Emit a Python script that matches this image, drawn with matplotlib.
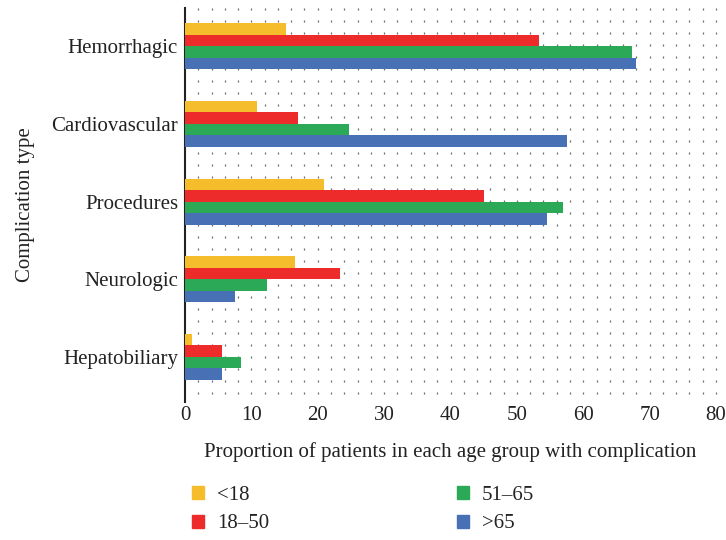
import numpy as np
import matplotlib.pyplot as plt
from matplotlib.patches import Patch

plt.rcParams['font.family'] = ['Liberation Serif', 'DejaVu Serif']

categories = ['Hepatobiliary', 'Neurologic', 'Procedures', 'Cardiovascular', 'Hemorrhagic']
groups = ['<18', '18\u201350', '51\u201365', '>65']
under18 = [1.0, 16.5, 21.0, 10.9, 15.2]
age18_50 = [5.6, 23.3, 45.1, 17.0, 53.3]
age51_65 = [8.5, 12.3, 57.0, 24.7, 67.3]
over65 = [5.6, 7.5, 54.5, 57.5, 67.9]
colors = ['#F5BC2B', '#EE2B2B', '#2BA956', '#4770B5']


def main():
    fig = plt.figure(figsize=(7.26, 5.40), dpi=100)
    ax = fig.add_axes([185 / 726, 1 - 402 / 540, 531 / 726, 394 / 540])

    y = np.arange(len(categories))
    h = 0.148
    series = [under18, age18_50, age51_65, over65]
    for i, (vals, c) in enumerate(zip(series, colors)):
        ax.barh(y + (1.5 - i) * h, vals, height=h, color=c, zorder=3)

    # dotted background grid (x in data, y in axes fraction)
    gx, gy = np.meshgrid(np.arange(2, 81, 2), np.linspace(0.0228, 0.9975, 33))
    ax.scatter(gx.ravel(), gy.ravel(), transform=ax.get_xaxis_transform(),
               marker='|', s=2.5, linewidths=0.9, color='#6a6a6a',
               zorder=1, clip_on=False)

    ax.set_xlim(0, 80)
    ax.set_ylim(-0.58, 4.49)
    ax.set_xticks(np.arange(0, 81, 10))
    ax.set_yticks(y)
    ax.set_yticklabels(categories)
    ax.tick_params(axis='both', which='both', length=0, labelsize=15,
                   colors='#222222')
    ax.tick_params(axis='x', pad=3)
    ax.tick_params(axis='y', pad=5)

    for s in ['top', 'right', 'bottom']:
        ax.spines[s].set_visible(False)
    ax.spines['left'].set_color('#222222')
    ax.spines['left'].set_linewidth(1.5)

    ax.set_xlabel('Proportion of patients in each age group with complication',
                  fontsize=15, color='#222222', labelpad=12)
    ax.set_ylabel('Complication type', fontsize=15, color='#222222', labelpad=11.5)

    handles = [Patch(color=c, label=g) for c, g in zip(colors, groups)]
    fig.legend(handles=handles, ncol=2, loc='upper left',
               bbox_to_anchor=(192 / 726, 1 - 486 / 540), frameon=False,
               borderpad=0, borderaxespad=0,
               fontsize=15, handlelength=0.58, handleheight=0.58,
               handletextpad=0.63, columnspacing=9.0, labelspacing=0.45,
               labelcolor='#222222')

    plt.savefig('out.png', dpi=100)


if __name__ == '__main__':
    main()
